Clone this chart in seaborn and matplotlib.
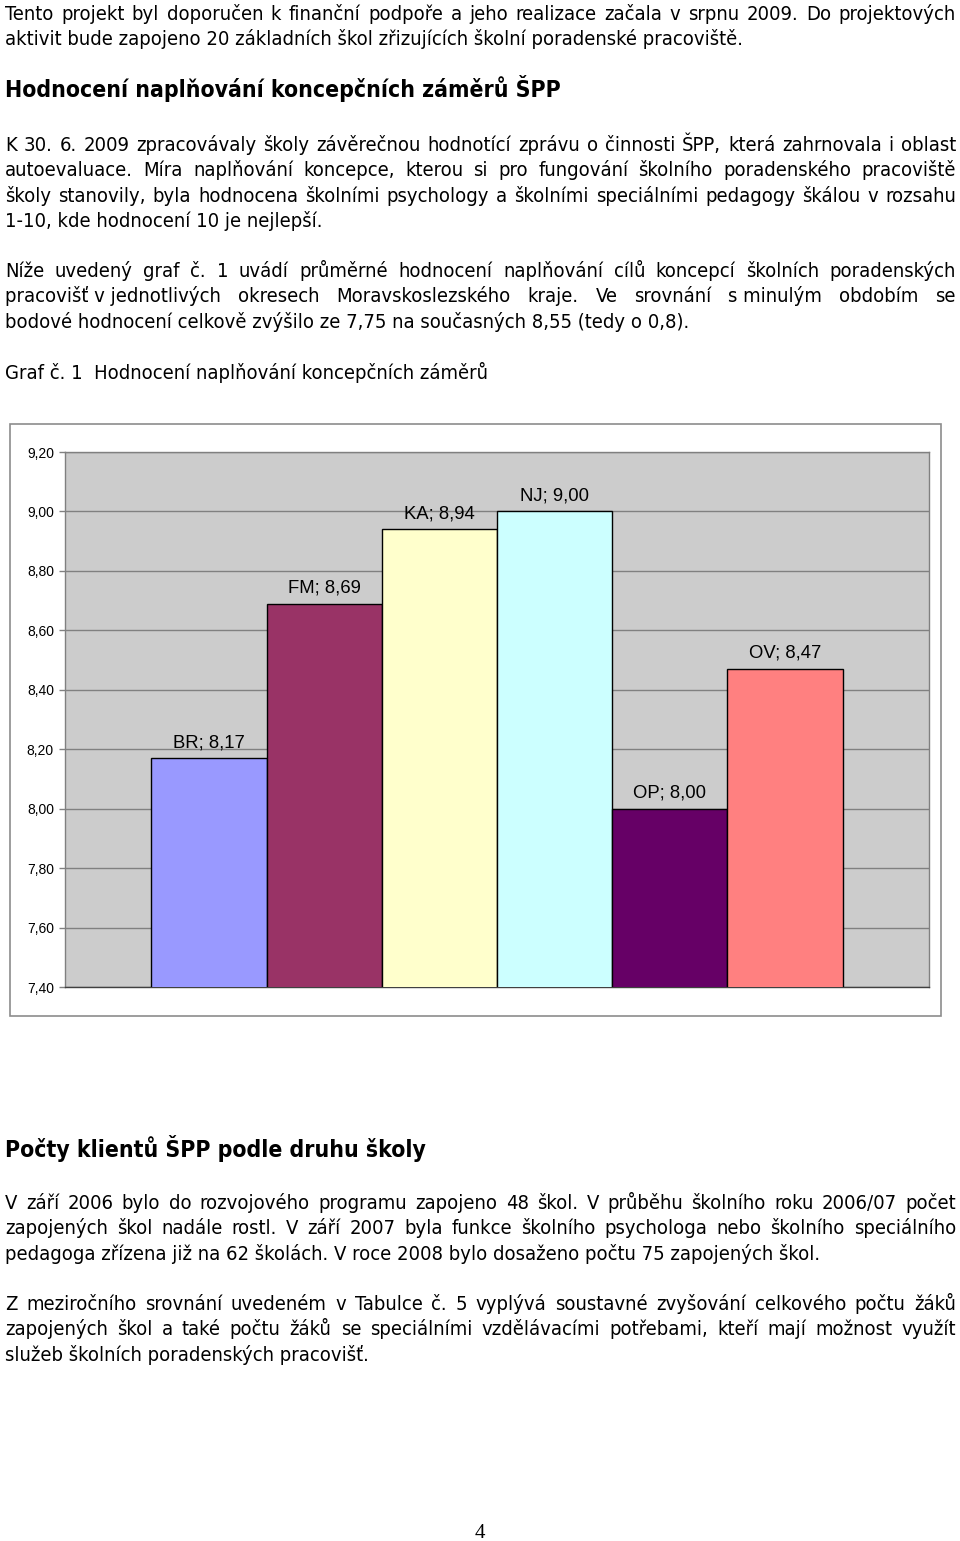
import matplotlib
matplotlib.use('Agg')
import matplotlib.pyplot as plt
from matplotlib import font_manager as fm
from matplotlib.patches import Rectangle
import seaborn as sns
import pandas as pd

# ---------------- data ----------------
districts = ['BR', 'FM', 'KA', 'NJ', 'OP', 'OV']
scores = [8.17, 8.69, 8.94, 9.00, 8.00, 8.47]
bar_colors = ['#9999FF', '#993366', '#FFFFCC', '#CCFFFF', '#660066', '#FF8080']
y_ticks = [7.4, 7.6, 7.8, 8.0, 8.2, 8.4, 8.6, 8.8, 9.0, 9.2]
y_tick_labels = ['7,40', '7,60', '7,80', '8,00', '8,20', '8,40', '8,60', '8,80', '9,00', '9,20']

NB = '\u00a0'
heading1 = 'Hodnocení naplňování koncepčních záměrů ŠPP'
heading2 = 'Počty klientů ŠPP podle druhu školy'
# (text, mode)  mode: 'j' justified, 'l' left
block1 = [
    ('Tento projekt byl doporučen k finanční podpoře a jeho realizace začala v srpnu 2009. Do projektových', 'j'),
    ('aktivit bude zapojeno 20 základních škol zřizujících školní poradenské pracoviště.', 'l'),
]
block2 = [
    ('K 30. 6. 2009 zpracovávaly školy závěrečnou hodnotící zprávu o činnosti ŠPP, která zahrnovala i oblast', 'j'),
    ('autoevaluace. Míra naplňování koncepce, kterou si pro fungování školního poradenského pracoviště', 'j'),
    ('školy stanovily, byla hodnocena školními psychology a školními speciálními pedagogy škálou v rozsahu', 'j'),
    ('1-10, kde hodnocení 10 je nejlepší.', 'l'),
]
block3 = [
    ('Níže uvedený graf č. 1 uvádí průměrné hodnocení naplňování cílů koncepcí školních poradenských', 'j'),
    ('pracovišť' + NB + 'v' + NB + 'jednotlivých okresech Moravskoslezského kraje. Ve srovnání s' + NB + 'minulým obdobím se', 'j'),
    ('bodové hodnocení celkově zvýšilo ze 7,75 na současných 8,55 (tedy o 0,8).', 'l'),
]
caption = 'Graf č. 1  Hodnocení naplňování koncepčních záměrů'
block4 = [
    ('V září 2006 bylo do rozvojového programu zapojeno 48 škol. V průběhu školního roku 2006/07 počet', 'j'),
    ('zapojených škol nadále rostl. V září 2007 byla funkce školního psychologa nebo školního speciálního', 'j'),
    ('pedagoga zřízena již na 62 školách. V roce 2008 bylo dosaženo počtu 75 zapojených škol.', 'l'),
]
block5 = [
    ('Z meziročního srovnání uvedeném v Tabulce č. 5 vyplývá soustavné zvyšování celkového počtu žáků', 'j'),
    ('zapojených škol a také počtu žáků se speciálními vzdělávacími potřebami, kteří mají možnost využít', 'j'),
    ('služeb školních poradenských pracovišť.', 'l'),
]
page_number = '4'

# ---------------- layout ----------------
W, H = 960, 1541
def fx(px):
    return px / W
def fy(py):
    return 1 - py / H

sns.set_theme(style='white')
plt.rcParams['font.family'] = ['Liberation Sans', 'DejaVu Sans']
plt.rcParams['text.color'] = 'black'
plt.rcParams['axes.labelcolor'] = 'black'
plt.rcParams['xtick.color'] = 'black'
plt.rcParams['ytick.color'] = 'black'

fig = plt.figure(figsize=(W / 100, H / 100), dpi=100)
fig.patch.set_facecolor('white')
renderer = fig.canvas.get_renderer()

# font selection for body text (narrow look of the reference)
names = {f.name for f in fm.fontManager.ttflist}
cond = [f for f in fm.fontManager.ttflist
        if f.name == 'DejaVu Sans' and 'ondensed' in f.fname]
if 'Liberation Sans Narrow' in names:
    body_fp = dict(family='Liberation Sans Narrow')
elif cond:
    body_fp = dict(family='DejaVu Sans', stretch='condensed')
else:
    body_fp = dict(family='DejaVu Sans')
body_fp['color'] = 'black'
bold_fp = dict(body_fp, weight='bold')


def text_width(s, size, fp):
    t = fig.text(0, 0, s, fontsize=size, **fp)
    w = t.get_window_extent(renderer).width
    t.remove()
    return w

X0, X1 = 5, 956
# fit body font size to left-aligned line widths of reference
left_samples = [(block1[1][0], 748), (block2[3][0], 330), (block3[2][0], 702),
                (block4[2][0], 836), (block5[2][0], 375), (caption, 496)]
w10 = sum(text_width(s, 10, body_fp) for s, _ in left_samples)
tw = sum(e - X0 for _, e in left_samples)
body_size = 10 * tw / w10
for blk in (block1, block2, block3, block4, block5):
    for s, m in blk:
        if m == 'j':
            wn = text_width(s, 10, body_fp)
            body_size = min(body_size, 10 * (X1 - X0) / wn * 0.985)

hb = text_width(heading1, 10, bold_fp) + text_width(heading2, 10, bold_fp)
head_size = 10 * ((557 - X0) + (421 - X0)) / hb


def draw_line(s, y, mode, size, fp):
    if mode == 'l':
        fig.text(fx(X0), fy(y), s, fontsize=size, ha='left', va='baseline', **fp)
        return
    words = s.split(' ')
    widths = [text_width(w, size, fp) for w in words]
    gap = (X1 - X0 - sum(widths)) / (len(words) - 1)
    x = X0
    for w, wd in zip(words, widths):
        fig.text(fx(x), fy(y), w, fontsize=size, ha='left', va='baseline', **fp)
        x += wd + gap


def draw_block(blk, y0, step=25.3):
    for i, (s, m) in enumerate(blk):
        draw_line(s, y0 + i * step, m, body_size, body_fp)

draw_block(block1, 20)
draw_line(heading1, 97, 'l', head_size, bold_fp)
draw_block(block2, 151)
draw_block(block3, 277)
draw_line(caption, 379, 'l', body_size, body_fp)
draw_line(heading2, 1157, 'l', head_size, bold_fp)
draw_block(block4, 1209)
draw_block(block5, 1310)
fig.text(0.5, fy(1538), page_number, family='Liberation Serif', fontsize=15,
         ha='center', va='baseline', color='black')

# ---------------- chart ----------------
fig.add_artist(Rectangle((fx(10), fy(1016)), fx(941) - fx(10), fy(424) - fy(1016),
                         transform=fig.transFigure, fill=False,
                         edgecolor='#8C8C8C', lw=1.2))

ax = fig.add_axes([fx(65), fy(987), fx(929) - fx(65), fy(452) - fy(987)])
df = pd.DataFrame({'district': districts, 'score': scores})
sns.barplot(data=df, x='district', y='score', hue='district', palette=bar_colors,
            width=1.0, saturation=1, edgecolor='black', linewidth=1,
            legend=False, ax=ax, zorder=3)
ax.set_ylim(7.4, 9.2)
ax.set_xlim(-1.25, 6.25)
ax.set_facecolor('#CCCCCC')
ax.set_yticks(y_ticks)
ax.set_yticklabels(y_tick_labels, fontsize=10, family='Liberation Sans', color='black')
ax.set_xticks([])
ax.set_xlabel('')
ax.set_ylabel('')
ax.yaxis.grid(True, color='#808080', lw=1)
ax.set_axisbelow(True)
ax.tick_params(axis='y', left=True, length=4, width=1, color='#808080', pad=4,
               labelcolor='black')
for side in ['left', 'top', 'right']:
    ax.spines[side].set_color('#808080')
    ax.spines[side].set_linewidth(1)
ax.spines['bottom'].set_color('#404040')
ax.spines['bottom'].set_linewidth(1)

for i, (d, v) in enumerate(zip(districts, scores)):
    lab = f'{d}; {v:.2f}'.replace('.', ',')
    ax.annotate(lab, (i, v), xytext=(0, 8), textcoords='offset points',
                ha='center', va='baseline', fontsize=13.3, family='Liberation Sans',
                color='black', zorder=5)

fig.savefig('out.png', dpi=100)
